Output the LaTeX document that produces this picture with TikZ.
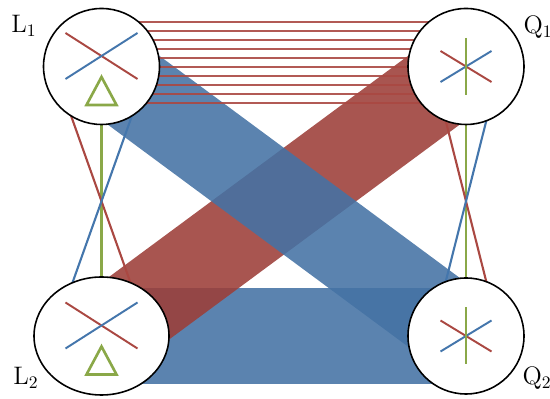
\documentclass[tikz,border=0pt]{standalone}
\usepackage{tikz}
\usetikzlibrary{shapes.geometric,backgrounds}
\definecolor{bandblue}{RGB}{68,114,164}
\definecolor{bandred}{RGB}{156,62,56}
\definecolor{symred}{RGB}{170,72,66}
\definecolor{symblue}{RGB}{68,118,172}
\definecolor{symgreen}{RGB}{138,168,72}

\begin{document}
\begin{tikzpicture}[
  hub/.style={circle,draw=black,line width=0.9pt,fill=white,
              minimum size=2.32cm,inner sep=0pt},
  lhub/.style={hub,path picture={
      \begin{scope}[shift={(path picture bounding box.center)}]
        \draw[symred,line width=1.1pt]  (-0.72,0.67) -- (0.72,-0.25);
        \draw[symblue,line width=1.1pt] (-0.72,-0.25) -- (0.72,0.67);
        \draw[symgreen,line width=1.5pt] (0,-0.21) -- (0.3,-0.77) -- (-0.3,-0.77) -- cycle;
      \end{scope}}},
  qhub/.style={hub,path picture={
      \begin{scope}[shift={(path picture bounding box.center)}]
        \draw[symred,line width=1.1pt]   (-0.51,0.31) -- (0.51,-0.31);
        \draw[symblue,line width=1.1pt]  (-0.51,-0.31) -- (0.51,0.31);
        \draw[symgreen,line width=1.1pt] (0,0.57) -- (0,-0.57);
      \end{scope}}},
  band/.style={line width=1.72cm,opacity=0.88},
  wire/.style={line width=1.2pt},
  hline/.style={symred,line width=1.1pt,opacity=0.9},
  lbl/.style={font=\Large,inner sep=0pt},
]
\useasboundingbox (0,0) rectangle (11,7.98);

% hubs
\node[lhub] (L1) at (2.03,6.65) {};
\node[qhub] (Q1) at (9.32,6.65) {};
\node[lhub,ellipse,minimum width=2.7cm,minimum height=2.36cm] (L2) at (2.03,1.26) {};
\node[qhub] (Q2) at (9.32,1.26) {};

% labels
\node[lbl] (l1) at (0.48,7.46) {L$_1$};
\node[lbl] (q1) at (10.76,7.44) {Q$_1$};
\node[lbl] (l2) at (0.52,0.42) {L$_2$};
\node[lbl] (q2) at (10.74,0.42) {Q$_2$};

\begin{scope}[on background layer]
% wide bands
\draw[band,bandblue,line width=1.92cm] (L2.center) -- (Q2.center);
\draw[band,bandred]  (Q1.center) -- (L2.center);
\draw[band,bandblue] (L1.center) -- (Q2.center);

% thin links
\foreach \i [evaluate=\i as \dy using 0.884-0.18*\i] in {0,...,9}
  \draw[hline] ([yshift=\dy cm]L1.center) -- ([yshift=\dy cm]Q1.center);

\draw[wire,symgreen] (L1.center) -- (L2.center);
\draw[wire,symred]   ([xshift=-0.96cm]L1.center) -- ([xshift=0.96cm]L2.center);
\draw[wire,symblue]  ([xshift=0.96cm]L1.center) -- ([xshift=-0.96cm]L2.center);

\draw[wire,symgreen] (Q1.center) -- (Q2.center);
\draw[wire,symred]   ([xshift=-0.68cm]Q1.center) -- ([xshift=0.68cm]Q2.center);
\draw[wire,symblue]  ([xshift=0.68cm]Q1.center) -- ([xshift=-0.68cm]Q2.center);
\end{scope}
\end{tikzpicture}
\end{document}
